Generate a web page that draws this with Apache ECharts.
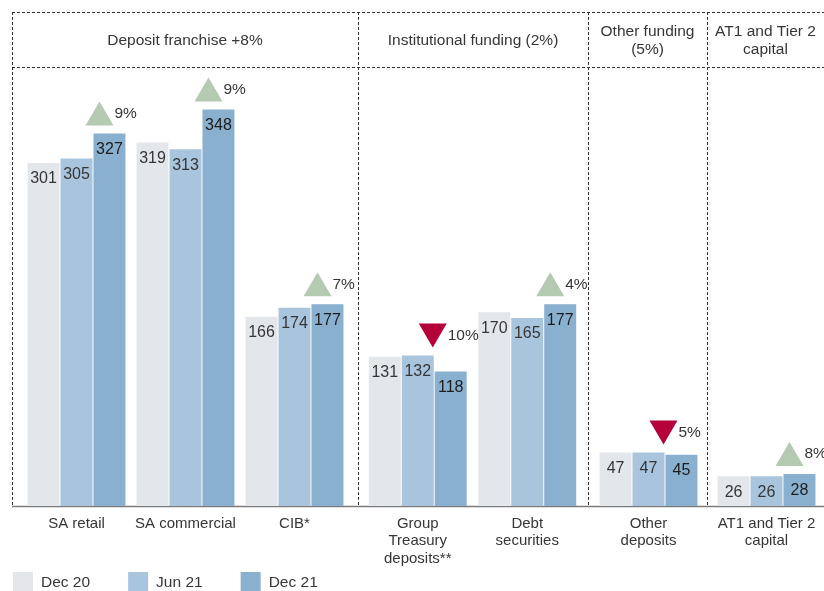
<!DOCTYPE html>
<html lang="en">
<head>
<meta charset="UTF-8">
<title>Funding mix</title>
<script src="https://cdn.jsdelivr.net/npm/echarts@6/dist/echarts.min.js"></script>
<style>
  html, body { margin: 0; padding: 0; background: #fff; }
</style>
</head>
<body>
<div id="main" style="width:824px; height:591px;"></div>
<script type="text/javascript">
// values
var categories = ['SA retail', 'SA commercial', 'CIB*', 'Group\nTreasury\ndeposits**', 'Debt\nsecurities', 'Other\ndeposits', 'AT1 and Tier 2\ncapital'];
var dec20 = [301, 319, 166, 131, 170, 47, 26];
var jun21 = [305, 313, 174, 132, 165, 47, 26];
var dec21 = [327, 348, 177, 118, 177, 45, 28];
var change = [9, 9, 7, -10, 4, -5, 8];
var seriesNames = ['Dec 20', 'Jun 21', 'Dec 21'];
var groupTitles = ['Deposit franchise +8%', 'Institutional funding (2%)', 'Other funding\n(5%)', 'AT1 and Tier 2\ncapital'];
var groupSizes = [3, 2, 1, 1];

// no condensed face installed, so Liberation Sans at a smaller size keeps the widths
var FONT = "'Liberation Sans', Arial, sans-serif";
var TXT = '#363636';
var colors = ['#e3e7eb', '#a9c5de', '#8ab0d0'];
var upColor = '#b4cab1', downColor = '#b5003a';

// panel bounds (dotted separators) and grid placement per panel
var panelX = [12, 358, 588, 707, 824];
var gridBoxes = [[22, 327], [363, 219], [594, 109], [712, 109]];
var axisY = 506, topY = 12, headY = 67;

var grids = [], xAxes = [], yAxes = [], series = [];
var start = 0;
groupSizes.forEach(function (n, g) {
  var idx = [];
  for (var i = start; i < start + n; i++) idx.push(i);
  start += n;
  grids.push({ left: gridBoxes[g][0], width: gridBoxes[g][1], top: 73, bottom: 591 - axisY });
  xAxes.push({
    type: 'category', gridIndex: g,
    data: idx.map(function (i) { return categories[i]; }),
    axisLine: { show: false }, axisTick: { show: false },
    axisLabel: { interval: 0, margin: 9, fontSize: 15, lineHeight: 17.5, color: TXT, fontFamily: FONT }
  });
  yAxes.push({ type: 'value', gridIndex: g, min: 0, max: 380, show: false, splitLine: { show: false } });
  [dec20, jun21, dec21].forEach(function (arr, s) {
    series.push({
      name: seriesNames[s], type: 'bar', xAxisIndex: g, yAxisIndex: g,
      barWidth: 32, barGap: '3%',
      itemStyle: { color: colors[s] },
      label: {
        show: true, position: 'insideTop', distance: 8,
        fontSize: 16, fontFamily: FONT, color: s === 2 ? '#1c1c1c' : TXT
      },
      emphasis: { disabled: true },
      data: idx.map(function (i) { return arr[i]; })
    });
  });
  // change markers sit above the tallest bar of each category
  series.push({
    name: 'change', type: 'scatter', xAxisIndex: g, yAxisIndex: g,
    symbolSize: [28, 24],
    clip: false, silent: true,
    data: idx.map(function (i, k) {
      var up = change[i] >= 0;
      return {
        value: [k, Math.max(dec20[i], jun21[i], dec21[i])],
        symbol: up ? 'triangle' : 'path://M0,0 L2,0 L1,1.7 Z',
        symbolOffset: up ? [23, -20] : [15, -20],
        itemStyle: { color: up ? upColor : downColor, opacity: 1 },
        label: { formatter: Math.abs(change[i]) + '%' }
      };
    }),
    label: { show: true, position: 'right', distance: 1, fontSize: 15.5, fontFamily: FONT, color: TXT }
  });
});

var dash = { stroke: '#333', lineWidth: 1, lineDash: [3, 2] };
var graphics = [
  { type: 'line', shape: { x1: 12, y1: topY + 0.5, x2: 824, y2: topY + 0.5 }, style: dash, silent: true },
  { type: 'line', shape: { x1: 12, y1: headY + 0.5, x2: 824, y2: headY + 0.5 }, style: dash, silent: true },
  { type: 'line', shape: { x1: 12, y1: axisY + 0.5, x2: 824, y2: axisY + 0.5 }, style: { stroke: '#7c7c7c', lineWidth: 1.5 }, silent: true }
];
panelX.slice(0, 4).forEach(function (x) {
  graphics.push({ type: 'line', shape: { x1: x + 0.5, y1: topY, x2: x + 0.5, y2: axisY }, style: dash, silent: true });
});
groupTitles.forEach(function (t, g) {
  graphics.push({
    type: 'text', x: (panelX[g] + panelX[g + 1]) / 2, y: 41, silent: true,
    style: { text: t, fill: TXT, font: '15.5px ' + FONT, align: 'center', verticalAlign: 'middle', lineHeight: 18 }
  });
});

var myChart = echarts.init(document.getElementById('main'));
myChart.setOption({
  backgroundColor: '#fff',
  animation: false,
  legend: {
    data: seriesNames, left: 13, top: 572, padding: 0, itemWidth: 20, itemHeight: 22, itemGap: 38,
    icon: 'rect', selectedMode: false,
    textStyle: { fontSize: 15.5, fontFamily: FONT, color: TXT, padding: [0, 0, 0, 3] }
  },
  grid: grids,
  xAxis: xAxes,
  yAxis: yAxes,
  series: series,
  graphic: graphics
});
</script>
</body>
</html>
